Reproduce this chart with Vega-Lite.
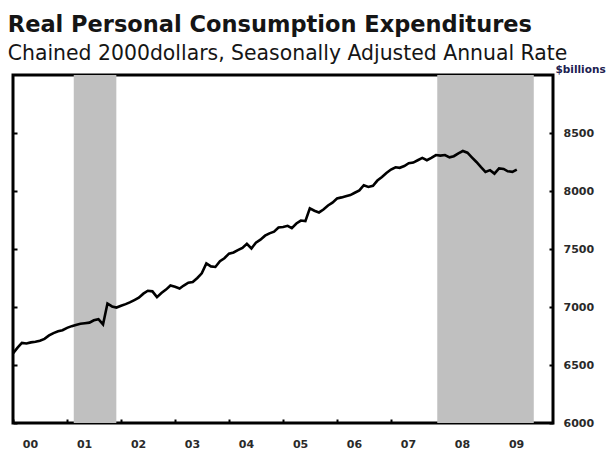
{
  "$schema": "https://vega.github.io/schema/vega-lite/v6.json",
  "width": 540,
  "height": 348,
  "autosize": {"type": "none"},
  "padding": {"left": 13, "top": 75, "right": 57, "bottom": 33},
  "background": "white",
  "title": {
    "text": "Real Personal Consumption  Expenditures",
    "subtitle": "Chained 2000dollars, Seasonally Adjusted Annual Rate",
    "anchor": "start",
    "font": "DejaVu Sans",
    "fontSize": 22.5,
    "fontWeight": "bold",
    "color": "#151515",
    "subtitleFont": "DejaVu Sans",
    "subtitleFontSize": 20.4,
    "subtitleFontWeight": "normal",
    "subtitleColor": "#151515",
    "subtitlePadding": 8,
    "offset": 0
  },
  "datasets": {
    "rec": [
      {"start": "2001-02-15", "end": "2001-11-30"},
      {"start": "2007-11-10", "end": "2009-08-24"}
    ],
    "pce": [
      {"date": "2000-01-01", "v": 6600}, {"date": "2000-02-01", "v": 6650}, {"date": "2000-03-01", "v": 6690}, {"date": "2000-04-01", "v": 6685},
      {"date": "2000-05-01", "v": 6695}, {"date": "2000-06-01", "v": 6700}, {"date": "2000-07-01", "v": 6710}, {"date": "2000-08-01", "v": 6725},
      {"date": "2000-09-01", "v": 6755}, {"date": "2000-10-01", "v": 6775}, {"date": "2000-11-01", "v": 6790}, {"date": "2000-12-01", "v": 6800},
      {"date": "2001-01-01", "v": 6820}, {"date": "2001-02-01", "v": 6835}, {"date": "2001-03-01", "v": 6845}, {"date": "2001-04-01", "v": 6855},
      {"date": "2001-05-01", "v": 6860}, {"date": "2001-06-01", "v": 6865}, {"date": "2001-07-01", "v": 6885}, {"date": "2001-08-01", "v": 6895},
      {"date": "2001-09-01", "v": 6850}, {"date": "2001-10-01", "v": 7030}, {"date": "2001-11-01", "v": 7005}, {"date": "2001-12-01", "v": 6995},
      {"date": "2002-01-01", "v": 7010}, {"date": "2002-02-01", "v": 7025}, {"date": "2002-03-01", "v": 7040}, {"date": "2002-04-01", "v": 7060},
      {"date": "2002-05-01", "v": 7080}, {"date": "2002-06-01", "v": 7115}, {"date": "2002-07-01", "v": 7140}, {"date": "2002-08-01", "v": 7135},
      {"date": "2002-09-01", "v": 7085}, {"date": "2002-10-01", "v": 7120}, {"date": "2002-11-01", "v": 7150}, {"date": "2002-12-01", "v": 7185},
      {"date": "2003-01-01", "v": 7175}, {"date": "2003-02-01", "v": 7160}, {"date": "2003-03-01", "v": 7185}, {"date": "2003-04-01", "v": 7210},
      {"date": "2003-05-01", "v": 7215}, {"date": "2003-06-01", "v": 7250}, {"date": "2003-07-01", "v": 7290}, {"date": "2003-08-01", "v": 7375},
      {"date": "2003-09-01", "v": 7350}, {"date": "2003-10-01", "v": 7345}, {"date": "2003-11-01", "v": 7395}, {"date": "2003-12-01", "v": 7420},
      {"date": "2004-01-01", "v": 7460}, {"date": "2004-02-01", "v": 7470}, {"date": "2004-03-01", "v": 7490}, {"date": "2004-04-01", "v": 7510},
      {"date": "2004-05-01", "v": 7545}, {"date": "2004-06-01", "v": 7505}, {"date": "2004-07-01", "v": 7555}, {"date": "2004-08-01", "v": 7580},
      {"date": "2004-09-01", "v": 7615}, {"date": "2004-10-01", "v": 7635}, {"date": "2004-11-01", "v": 7650}, {"date": "2004-12-01", "v": 7685},
      {"date": "2005-01-01", "v": 7690}, {"date": "2005-02-01", "v": 7700}, {"date": "2005-03-01", "v": 7680}, {"date": "2005-04-01", "v": 7720},
      {"date": "2005-05-01", "v": 7745}, {"date": "2005-06-01", "v": 7740}, {"date": "2005-07-01", "v": 7850}, {"date": "2005-08-01", "v": 7830},
      {"date": "2005-09-01", "v": 7815}, {"date": "2005-10-01", "v": 7840}, {"date": "2005-11-01", "v": 7875}, {"date": "2005-12-01", "v": 7900},
      {"date": "2006-01-01", "v": 7935}, {"date": "2006-02-01", "v": 7945}, {"date": "2006-03-01", "v": 7955}, {"date": "2006-04-01", "v": 7965},
      {"date": "2006-05-01", "v": 7985}, {"date": "2006-06-01", "v": 8005}, {"date": "2006-07-01", "v": 8050}, {"date": "2006-08-01", "v": 8035},
      {"date": "2006-09-01", "v": 8045}, {"date": "2006-10-01", "v": 8090}, {"date": "2006-11-01", "v": 8120}, {"date": "2006-12-01", "v": 8155},
      {"date": "2007-01-01", "v": 8185}, {"date": "2007-02-01", "v": 8205}, {"date": "2007-03-01", "v": 8200}, {"date": "2007-04-01", "v": 8215},
      {"date": "2007-05-01", "v": 8240}, {"date": "2007-06-01", "v": 8245}, {"date": "2007-07-01", "v": 8265}, {"date": "2007-08-01", "v": 8285},
      {"date": "2007-09-01", "v": 8265}, {"date": "2007-10-01", "v": 8285}, {"date": "2007-11-01", "v": 8310}, {"date": "2007-12-01", "v": 8305},
      {"date": "2008-01-01", "v": 8310}, {"date": "2008-02-01", "v": 8290}, {"date": "2008-03-01", "v": 8300}, {"date": "2008-04-01", "v": 8325},
      {"date": "2008-05-01", "v": 8345}, {"date": "2008-06-01", "v": 8330}, {"date": "2008-07-01", "v": 8290}, {"date": "2008-08-01", "v": 8250},
      {"date": "2008-09-01", "v": 8205}, {"date": "2008-10-01", "v": 8165}, {"date": "2008-11-01", "v": 8180}, {"date": "2008-12-01", "v": 8150},
      {"date": "2009-01-01", "v": 8195}, {"date": "2009-02-01", "v": 8190}, {"date": "2009-03-01", "v": 8170}, {"date": "2009-04-01", "v": 8165},
      {"date": "2009-05-01", "v": 8185}
    ]
  },
  "layer": [
    {
      "data": {"name": "rec"},
      "mark": {"type": "rect", "color": "#c0c0c0"},
      "encoding": {
        "x": {
          "field": "start", "type": "temporal",
          "scale": {"type": "utc", "domain": [{"year": 2000, "month": 1, "date": 1, "utc": true}, {"year": 2010, "month": 1, "date": 1, "utc": true}]},
          "axis": {
            "orient": "bottom",
            "values": [
              {"year": 2000, "month": 1, "date": 1, "utc": true}, {"year": 2001, "month": 1, "date": 1, "utc": true},
              {"year": 2002, "month": 1, "date": 1, "utc": true}, {"year": 2003, "month": 1, "date": 1, "utc": true},
              {"year": 2004, "month": 1, "date": 1, "utc": true}, {"year": 2005, "month": 1, "date": 1, "utc": true},
              {"year": 2006, "month": 1, "date": 1, "utc": true}, {"year": 2007, "month": 1, "date": 1, "utc": true},
              {"year": 2008, "month": 1, "date": 1, "utc": true}, {"year": 2009, "month": 1, "date": 1, "utc": true}
            ],
            "format": "%y",
            "title": null,
            "domain": false,
            "grid": false,
            "tickSize": -4,
            "tickWidth": 2,
            "tickColor": "black",
            "labelPadding": 19,
            "labelOffset": 17,
            "labelFont": "DejaVu Sans",
            "labelFontSize": 11,
            "labelFontWeight": "bold",
            "labelColor": "#2a2a2a",
            "labelOverlap": false,
            "labelFlush": false
          }
        },
        "x2": {"field": "end"},
        "y": {
          "datum": 6000, "type": "quantitative",
          "scale": {"domain": [6000, 9000]},
          "axis": {
            "orient": "left",
            "values": [6000, 6500, 7000, 7500, 8000, 8500],
            "labels": false,
            "title": null,
            "domain": false,
            "grid": false,
            "tickSize": -4,
            "tickWidth": 2,
            "tickColor": "black"
          }
        },
        "y2": {"datum": 9000}
      }
    },
    {
      "data": {"name": "pce"},
      "mark": {"type": "line", "color": "black", "strokeWidth": 2.6},
      "encoding": {
        "x": {
          "field": "date", "type": "temporal",
          "scale": {"type": "utc", "domain": [{"year": 2000, "month": 1, "date": 1, "utc": true}, {"year": 2010, "month": 1, "date": 1, "utc": true}]}
        },
        "y": {
          "field": "v", "type": "quantitative",
          "scale": {"domain": [6000, 9000]},
          "axis": {
            "orient": "right",
            "values": [6000, 6500, 7000, 7500, 8000, 8500],
            "format": "d",
            "domain": false,
            "grid": false,
            "tickSize": -4,
            "tickWidth": 2,
            "tickColor": "black",
            "labelPadding": 14,
            "labelAlign": "left",
            "labelFont": "DejaVu Sans",
            "labelFontSize": 11,
            "labelFontWeight": "bold",
            "labelColor": "#2a2a2a",
            "title": "$billions",
            "titleAngle": 0,
            "titleX": 2,
            "titleY": -5.5,
            "titleAlign": "left",
            "titleBaseline": "middle",
            "titleFont": "DejaVu Sans",
            "titleFontSize": 10.5,
            "titleFontWeight": "bold",
            "titleColor": "#202050"
          }
        }
      }
    }
  ],
  "resolve": {"scale": {"y": "independent"}},
  "config": {"view": {"stroke": "black", "strokeWidth": 3}}
}
